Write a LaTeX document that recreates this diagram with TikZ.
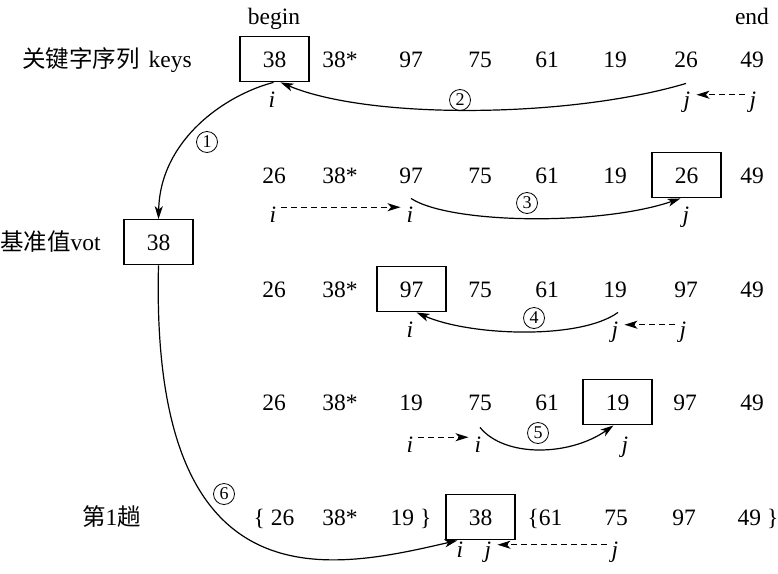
\documentclass[tikz,border=0pt]{standalone}
\usepackage{fontspec}
\setmainfont{Liberation Serif}
\newfontfamily\cjk{Noto Sans CJK SC}
\usetikzlibrary{arrows.meta}
\begin{document}
\begin{tikzpicture}[x=1pt,y=-1pt,
  font=\fontsize{23.5}{28}\selectfont,
  num/.style={anchor=base, inner sep=0pt},
  boxn/.style={draw, line width=1.2pt, minimum width=69pt, minimum height=45pt, anchor=base, inner sep=0pt},
  ptr/.style={anchor=base, inner sep=0pt, font=\fontsize{23.5}{28}\selectfont\itshape},
  circ/.style={circle, draw, line width=0.8pt, inner sep=0pt, minimum size=21pt, font=\fontsize{18}{18}\selectfont},
  curve/.style={line width=1.2pt, -{Stealth[length=13pt,width=8pt,inset=3.5pt]}},
  dasharr/.style={line width=1.1pt, dash pattern=on 6pt off 4pt, -{Stealth[length=13pt,width=8pt,inset=3.5pt]}, shorten <=5pt, shorten >=6pt}
]
\useasboundingbox (0,0) rectangle (778,573);

% headers
\node[num] (begin) at (274,24) {begin};
\node[num] (end) at (752,24) {end};

% row labels
\node[anchor=base west, inner sep=0pt] (lkeys) at (22,67) {{\cjk 关键字序列}\hspace{9pt}keys};
\node[anchor=base west, inner sep=0pt] (lpiv) at (0,250) {{\cjk 基准值}vot};
\node[anchor=base west, inner sep=0pt] (lpass) at (82,525) {{\cjk 第}1{\cjk 趟}};

% pivot
\node[boxn] (piv) at (158.5,250) {38};

% row 0
\node[boxn] (r0c1) at (274.5,67) {38};
\node[num] (r0c2) at (340,67) {38*};
\node[num] (r0c3) at (411,67) {97};
\node[num] (r0c4) at (480,67) {75};
\node[num] (r0c5) at (547,67) {61};
\node[num] (r0c6) at (615,67) {19};
\node[num] (r0c7) at (686,67) {26};
\node[num] (r0c8) at (752,67) {49};

% row 1
\node[num] (r1c1) at (274,183) {26};
\node[num] (r1c2) at (340,183) {38*};
\node[num] (r1c3) at (411,183) {97};
\node[num] (r1c4) at (480,183) {75};
\node[num] (r1c5) at (547,183) {61};
\node[num] (r1c6) at (615,183) {19};
\node[boxn] (r1c7) at (686.5,183) {26};
\node[num] (r1c8) at (752,183) {49};

% row 2
\node[num] (r2c1) at (274,297) {26};
\node[num] (r2c2) at (340,297) {38*};
\node[boxn] (r2c3) at (411.5,297) {97};
\node[num] (r2c4) at (480,297) {75};
\node[num] (r2c5) at (547,297) {61};
\node[num] (r2c6) at (615,297) {19};
\node[num] (r2c7) at (686,297) {97};
\node[num] (r2c8) at (752,297) {49};

% row 3
\node[num] (r3c1) at (274,410) {26};
\node[num] (r3c2) at (340,410) {38*};
\node[num] (r3c3) at (411,410) {19};
\node[num] (r3c4) at (480,410) {75};
\node[num] (r3c5) at (547,410) {61};
\node[boxn] (r3c6) at (617.5,410) {19};
\node[num] (r3c7) at (685,410) {97};
\node[num] (r3c8) at (752,410) {49};

% row 4
\node[num] (r4c1) at (274,525) {\{ 26};
\node[num] (r4c2) at (340,525) {38*};
\node[num] (r4c3) at (411,525) {19 \}};
\node[boxn] (r4c4) at (480.5,525) {38};
\node[num] (r4c5) at (545,525) {\{61};
\node[num] (r4c6) at (616,525) {75};
\node[num] (r4c7) at (684,525) {97};
\node[num] (r4c8) at (758,525) {49 \}};

% pointers
\node[ptr] (i0) at (272,107) {i};
\node[ptr] (j0a) at (687,107) {j};
\node[ptr] (j0b) at (753,107) {j};
\node[ptr] (i1a) at (273,222) {i};
\node[ptr] (i1b) at (410,222) {i};
\node[ptr] (j1) at (686,222) {j};
\node[ptr] (i2) at (410,337) {i};
\node[ptr] (j2a) at (615,337) {j};
\node[ptr] (j2b) at (683,337) {j};
\node[ptr] (i3a) at (410,452) {i};
\node[ptr] (i3b) at (478,452) {i};
\node[ptr] (j3) at (625,452) {j};
\node[ptr] (i4) at (460,557) {i};
\node[ptr] (j4a) at (488,557) {j};
\node[ptr] (j4b) at (615,557) {j};

% dashed pointer moves
\draw[dasharr] ([yshift=7pt]j0b.west) -- ([yshift=7pt]j0a.east);
\draw[dasharr] ([yshift=7pt]i1a.east) -- ([yshift=7pt]i1b.west);
\draw[dasharr] ([yshift=7pt]j2b.west) -- ([yshift=7pt]j2a.east);
\draw[dasharr] ([yshift=7pt]i3a.east) -- ([yshift=7pt]i3b.west);
\draw[dasharr] ([yshift=7pt]j4b.west) -- ([yshift=7pt]j4a.east);

% step labels
\node[circ] (s1) at (207,142) {1};
\node[circ] (s2) at (460,100) {2};
\node[circ] (s3) at (527,203) {3};
\node[circ] (s4) at (534,318) {4};
\node[circ] (s5) at (538,433) {5};
\node[circ] (s6) at (224,494) {6};

% moves
\draw[curve] ([xshift=-1pt]r0c1.south) .. controls (225,95) and (160,140) .. (piv.north);
\draw[curve] ([yshift=-16pt]r0c7.south) .. controls (570,118) and (370,120) .. ([xshift=6pt]r0c1.south);
\draw[curve] ([yshift=-15pt]r1c3.south) .. controls (450,224) and (600,226) .. ([xshift=-6pt]r1c7.south);
\draw[curve] ([xshift=3pt,yshift=-15pt]r2c6.south) .. controls (580,340) and (470,336) .. ([xshift=5pt]r2c3.south);
\draw[curve] ([yshift=-17pt]r3c4.south) .. controls (505,458) and (570,456) .. ([xshift=-4pt]r3c6.south);
\draw[curve] (piv.south) .. controls (150,610) and (330,570) .. ([xshift=-23pt]r4c4.south);
\end{tikzpicture}
\end{document}
